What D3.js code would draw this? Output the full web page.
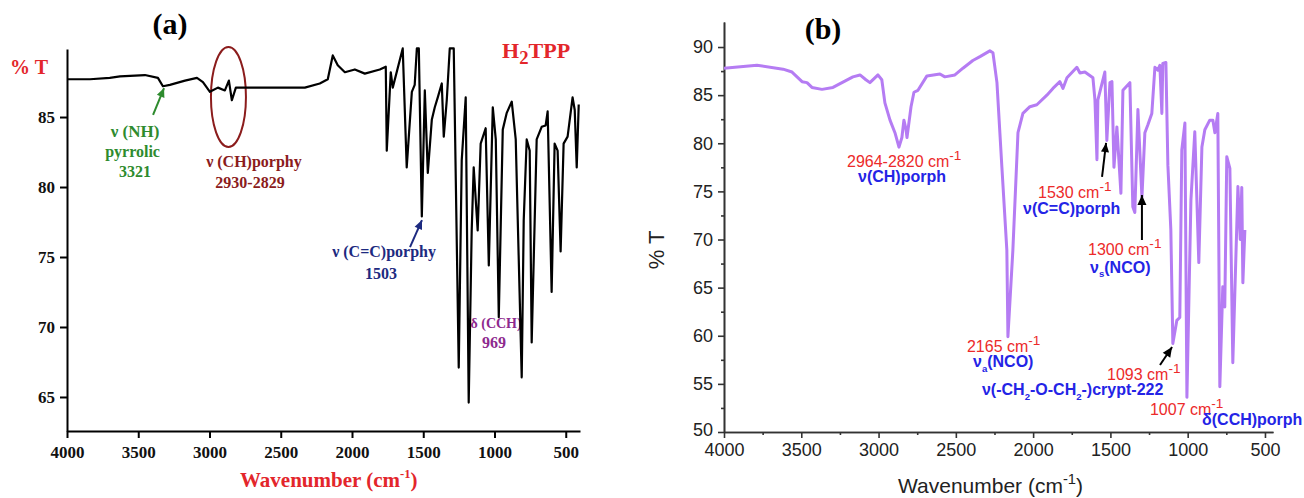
<!DOCTYPE html>
<html><head><meta charset="utf-8">
<script src="https://cdn.jsdelivr.net/npm/d3@7"></script>
<style>body{margin:0;background:#fff}svg{display:block}</style>
</head><body>
<svg id="c" width="1304" height="498"></svg>
<script>
// ---------- Panel (a): H2TPP ----------
const waveA = [4000,3839,3700,3628,3453,3362,3327,3278,3172,3088,3046,2997,2941,2892,2864,2843,2815,2717,2576,2436,2331,2226,2170,2135,2100,2050,1980,1910,1805,1763,1756,1728,1714,1644,1616,1580,1560,1545,1531,1510,1489,1468,1440,1419,1398,1370,1356,1335,1314,1286,1251,1230,1202,1181,1160,1146,1118,1097,1062,1040,1012,991,970,942,914,879,851,809,795,774,753,739,704,669,641,627,599,578,557,536,515,487,452,437,423,409];
const transA = [87.7,87.7,87.8,87.9,88.0,87.8,87.2,87.3,87.6,87.8,87.5,86.8,87.1,86.9,87.6,86.2,87.1,87.1,87.1,87.1,87.1,87.4,87.7,89.4,88.7,88.2,88.4,88.1,88.4,88.6,82.6,88.2,87.1,89.9,81.4,86.8,87.3,89.9,89.9,77.9,86.9,81.0,84.8,85.7,86.4,87.4,83.6,86.2,89.9,89.9,67.1,81.9,86.4,64.6,76.9,81.4,76.9,83.1,84.2,74.4,85.7,83.4,70.7,84.1,85.3,86.1,83.4,66.4,77.6,83.4,82.6,68.9,83.4,84.3,84.4,85.4,72.5,83.1,82.6,75.4,83.1,83.6,86.4,85.5,81.4,85.9];
const ticksAX = [4000,3500,3000,2500,2000,1500,1000,500];
const ticksAY = [65,70,75,80,85];

// ---------- Panel (b) ----------
const waveB = [4000,3787,3618,3560,3495,3463,3431,3366,3295,3166,3120,3082,3056,3024,3004,2979,2959,2926,2894,2868,2849,2836,2823,2816,2790,2771,2745,2687,2603,2571,2506,2454,2390,2344,2280,2260,2234,2202,2170,2163,2131,2098,2066,2021,1976,1911,1872,1827,1807,1781,1717,1697,1665,1613,1600,1587,1581,1536,1523,1503,1490,1477,1458,1432,1419,1374,1355,1342,1322,1296,1277,1258,1232,1212,1193,1180,1167,1161,1141,1128,1109,1096,1070,1051,1038,1018,1005,979,954,928,908,889,857,837,824,805,792,773,760,747,727,708,675,660,650,643,630];
const transB = [87.8,88.1,87.7,87.4,86.4,86.3,85.8,85.6,85.8,86.9,87.1,86.6,86.3,86.8,87.1,86.6,84.2,82.4,81.1,79.6,80.6,82.4,81.5,80.6,83.8,85.3,85.5,87.0,87.2,86.9,87.1,87.8,88.6,89.0,89.6,89.4,86.3,77.5,68.9,59.9,68.9,81.1,83.1,83.8,84.0,85.0,85.7,86.4,85.7,86.8,87.9,87.3,87.4,86.8,84.5,78.3,84.5,87.4,80.3,86.3,86.4,77.5,81.7,74.8,85.5,86.3,73.4,72.8,83.5,74.4,81.1,81.9,83.1,87.9,87.6,88.1,83.1,88.3,88.4,77.7,71.0,59.2,61.6,61.9,79.3,82.1,53.6,74.1,81.2,67.6,79.6,81.4,82.4,82.4,81.1,83.1,54.7,65.1,63.0,78.6,77.4,57.2,75.5,70.0,75.4,65.5,71.0];
const ticksBX = [4000,3500,3000,2500,2000,1500,1000,500];
const minorBX = [3750,3250,2750,2250,1750,1250,750];
const ticksBY = [50,55,60,65,70,75,80,85,90];
const minorBY = [52.5,57.5,62.5,67.5,72.5,77.5,82.5,87.5];

const svg = d3.select('#c');
const SERIF = "'Liberation Serif','Times New Roman',serif";
const SANS = "'Liberation Sans',Arial,sans-serif";
const fmt = d3.format('d');

function rich(g, x, y, parts, o) {
  const t = g.append('text').attr('x', x).attr('y', y)
    .attr('font-family', o.family).attr('font-size', o.size)
    .attr('font-weight', o.weight || 'normal').attr('fill', o.fill)
    .attr('text-anchor', o.anchor || 'start');
  let shift = 0;
  parts.forEach(p => {
    const part = typeof p === 'string' ? {t: p} : p;
    const target = part.sup ? -o.size * 0.42 : part.sub ? o.size * 0.28 : 0;
    const ts = t.append('tspan').attr('dy', target - shift).text(part.t);
    if (part.sup || part.sub) ts.attr('font-size', o.size * (part.scale || 0.75));
    shift = target;
  });
  return t;
}
function arrow(g, x1, y1, x2, y2, color, w, head) {
  g.append('line').attr('x1', x1).attr('y1', y1).attr('x2', x2).attr('y2', y2)
    .attr('stroke', color).attr('stroke-width', w);
  const a = Math.atan2(y2 - y1, x2 - x1), L = head, W = head * 0.45;
  const bx = x2 - L * Math.cos(a), by = y2 - L * Math.sin(a);
  const px = -Math.sin(a) * W, py = Math.cos(a) * W;
  g.append('path').attr('d', `M${x2},${y2}L${bx + px},${by + py}L${bx - px},${by - py}Z`).attr('fill', color);
}

// ===== Panel (a) =====
const gA = svg.append('g');
const xA = d3.scaleLinear().domain([4000, 400]).range([67, 580]);
const yA = d3.scaleLinear().domain([62.57, 89.86]).range([431, 49]);

const axAx = gA.append('g').attr('transform', `translate(0,${yA.range()[0]})`)
  .call(d3.axisBottom(xA).tickValues(ticksAX).tickFormat(fmt).tickSize(7).tickPadding(8).tickSizeOuter(0));
const axAy = gA.append('g').attr('transform', `translate(${xA.range()[0]},0)`)
  .call(d3.axisLeft(yA).tickValues(ticksAY).tickFormat(fmt).tickSize(7).tickPadding(5).tickSizeOuter(0));
[axAx, axAy].forEach(ax => {
  ax.selectAll('path,line').attr('stroke', '#000').attr('stroke-width', 2);
  ax.selectAll('text').attr('font-family', SERIF).attr('font-weight', 'bold')
    .attr('font-size', 17).attr('fill', '#111');
});

// annotations (a)
const green = '#2e8b2e', dred = '#8b1c1c', navy = '#1d2a80', purp = '#8e2a8e', red = '#e3262b';
const oA = (fill, size) => ({family: SERIF, size: size || 16, weight: 'bold', fill, anchor: 'middle'});
rich(gA, xA(3523), yA(83.6), ['ν (NH)'], oA(green, 17));
rich(gA, xA(3540), yA(82.12), ['pyrrolic'], oA(green, 16));
rich(gA, xA(3523), yA(80.75), ['3321'], oA(green, 16));
arrow(gA, xA(3396), yA(85.15), xA(3319), yA(87.07), green, 2, 9);
gA.append('ellipse').attr('cx', xA(2867)).attr('cy', yA(86.43)).attr('rx', 17.5).attr('ry', 50)
  .attr('fill', 'none').attr('stroke', '#8b1c1c').attr('stroke-width', 2);
rich(gA, xA(2688), yA(81.43), ['ν (CH)porphy'], oA(dred));
rich(gA, xA(2716), yA(79.93), ['2930-2829'], oA(dred));
rich(gA, xA(1775), yA(75.0), ['ν (C=C)porphy'], oA(navy));
rich(gA, xA(1796), yA(73.43), ['1503'], oA(navy));
arrow(gA, xA(1593), yA(75.71), xA(1509), yA(77.64), navy, 2, 9);
rich(gA, xA(989), yA(69.93), ['δ (CCH)'], oA(purp, 14));
rich(gA, xA(1003), yA(68.5), ['969'], oA(purp, 16));
rich(gA, xA(947), yA(89.22), ['H', {t: '2', sub: true, scale: 0.85}, 'TPP'], {family: SERIF, size: 22, weight: 'bold', fill: red});
rich(gA, 10, 74, ['% T'], {family: SERIF, size: 20, weight: 'bold', fill: red});
rich(gA, 240, 487, ['Wavenumber (cm', {t: '-1', sup: true, scale: 0.6}, ')'], {family: SERIF, size: 21, weight: 'bold', fill: red});
rich(gA, 170, 34, ['(a)'], {family: SERIF, size: 30, weight: 'bold', fill: '#000', anchor: 'middle'});

const dataA = waveA.map((w, i) => [w, transA[i]]);
gA.append('path').datum(dataA)
  .attr('d', d3.line().x(d => xA(d[0])).y(d => yA(d[1])))
  .attr('fill', 'none').attr('stroke', '#000').attr('stroke-width', 2.2).attr('stroke-linejoin', 'round');

// ===== Panel (b) =====
const gB = svg.append('g');
const xB = d3.scaleLinear().domain([4000, 448]).range([724, 1273]);
const yB = d3.scaleLinear().domain([50, 92.6]).range([432, 22]);

const axBx = gB.append('g').attr('transform', `translate(0,${yB.range()[0]})`)
  .call(d3.axisBottom(xB).tickValues(ticksBX).tickFormat(fmt).tickSize(6).tickPadding(5).tickSizeOuter(0));
const axBxm = gB.append('g').attr('transform', `translate(0,${yB.range()[0]})`)
  .call(d3.axisBottom(xB).tickValues(minorBX).tickSize(3).tickFormat('').tickSizeOuter(0));
const axBy = gB.append('g').attr('transform', `translate(${xB.range()[0]},0)`)
  .call(d3.axisLeft(yB).tickValues(ticksBY).tickFormat(fmt).tickSize(6).tickPadding(5).tickSizeOuter(0));
const axBym = gB.append('g').attr('transform', `translate(${xB.range()[0]},0)`)
  .call(d3.axisLeft(yB).tickValues(minorBY).tickSize(3).tickFormat('').tickSizeOuter(0));
[axBx, axBxm, axBy, axBym].forEach(ax => {
  ax.selectAll('path,line').attr('stroke', '#333').attr('stroke-width', 1.6);
  ax.selectAll('text').attr('font-family', SANS).attr('font-size', 18).attr('fill', '#222');
});
axBy.selectAll('.tick').filter(d => d === 50).select('text').attr('dy', '0.2em');

const dataB = waveB.map((w, i) => [w, transB[i]]);
gB.append('path').datum(dataB)
  .attr('d', d3.line().x(d => xB(d[0])).y(d => yB(d[1])))
  .attr('fill', 'none').attr('stroke', '#b57cf3').attr('stroke-width', 3).attr('stroke-linejoin', 'round');

const redB = '#ec2a2a', blueB = '#2424e6';
const oR = {family: SANS, size: 16, fill: redB};
const oBl = {family: SANS, size: 16, weight: 'bold', fill: blueB};
rich(gB, xB(3204), yB(77.53), ['2964-2820 cm', {t: '-1', sup: true, scale: 0.85}], oR);
rich(gB, xB(3133), yB(75.98), ['ν(CH)porph'], oBl);
rich(gB, xB(2428), yB(58.31), ['2165 cm', {t: '-1', sup: true, scale: 0.85}], oR);
rich(gB, xB(2389), yB(56.75), ['ν', {t: 'a', sub: true, scale: 0.6}, '(NCO)'], oBl);
rich(gB, xB(1968), yB(74.35), ['1530 cm', {t: '-1', sup: true, scale: 0.85}], oR);
rich(gB, xB(2065), yB(72.65), ['ν(C=C)porph'], oBl);
arrow(gB, xB(1554), yB(76.5), xB(1528), yB(80.03), '#000', 2, 9);
rich(gB, xB(1645), yB(68.39), ['1300 cm', {t: '-1', sup: true, scale: 0.85}], oR);
rich(gB, xB(1632), yB(66.52), ['ν', {t: 's', sub: true, scale: 0.6}, '(NCO)'], oBl);
arrow(gB, xB(1296), yB(69.95), xB(1296), yB(74.62), '#000', 2, 10);
rich(gB, xB(1522), yB(55.4), ['1093 cm', {t: '-1', sup: true, scale: 0.85}], oR);
arrow(gB, xB(1179), yB(56.96), xB(1101), yB(58.83), '#000', 2, 10);
rich(gB, xB(2331), yB(53.84), ['ν(-CH', {t: '2', sub: true, scale: 0.6}, '-O-CH', {t: '2', sub: true, scale: 0.6}, '-)crypt-222'], oBl);
rich(gB, xB(1244), yB(51.77), ['1007 cm', {t: '-1', sup: true, scale: 0.85}], oR);
rich(gB, xB(907), yB(50.73), ['δ(CCH)porph'], oBl);

rich(gB, 664, 250, ['% T'], {family: SANS, size: 22, fill: '#222', anchor: 'middle'})
  .attr('transform', 'rotate(-90,664,250)');
rich(gB, 898, 493, ['Wavenumber (cm', {t: '-1', sup: true, scale: 0.7}, ')'], {family: SANS, size: 21, fill: '#222'});
rich(gB, 823, 39, ['(b)'], {family: SERIF, size: 30, weight: 'bold', fill: '#000', anchor: 'middle'});
</script>
</body></html>
